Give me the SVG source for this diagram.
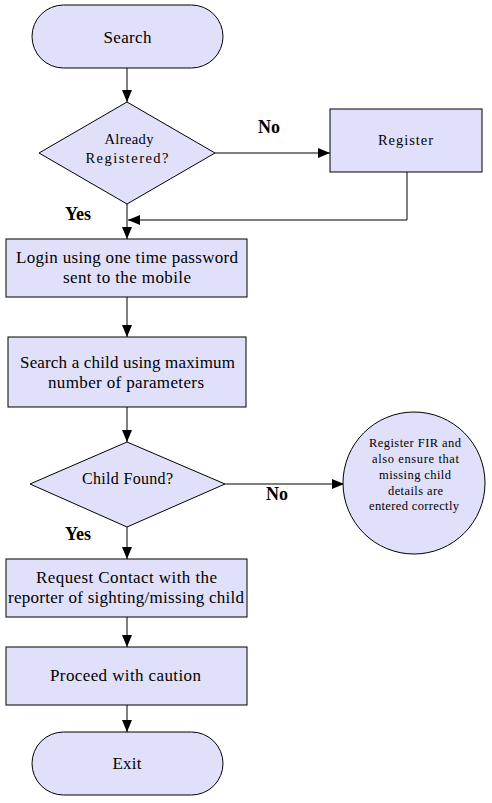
<svg xmlns="http://www.w3.org/2000/svg" width="492" height="803" viewBox="0 0 492 803">
<style>
.shape{fill:#e0e0fa;stroke:#000;stroke-width:1}
.t{font-family:"Liberation Serif","Times New Roman",serif;fill:#000;text-anchor:middle}
.b17{font-size:17px}
.s14{font-size:14.5px}
.s15{font-size:16px}
.s12{font-size:12.5px}
.lbl{font-family:"Liberation Serif","Times New Roman",serif;font-size:18px;font-weight:bold;fill:#000}
.c{fill:none;stroke:#000;stroke-width:1}
</style>
<defs>
<marker id="ah" markerUnits="userSpaceOnUse" markerWidth="12" markerHeight="10" refX="12" refY="5" orient="auto">
<path d="M0,0 L12,5 L0,10 Z" fill="#000"/>
</marker>
</defs>
<rect width="492" height="803" fill="#fff"/>
<g id="connectors">
<line class="c" x1="127" y1="68" x2="127" y2="102" marker-end="url(#ah)"/>
<line class="c" x1="215" y1="153" x2="330" y2="153" marker-end="url(#ah)"/>
<polyline class="c" points="407,172 407,220 128,220" marker-end="url(#ah)"/>
<line class="c" x1="127" y1="204" x2="127" y2="239" marker-end="url(#ah)"/>
<line class="c" x1="127" y1="297" x2="127" y2="337" marker-end="url(#ah)"/>
<line class="c" x1="127" y1="407" x2="127" y2="442" marker-end="url(#ah)"/>
<line class="c" x1="225" y1="484" x2="344" y2="484" marker-end="url(#ah)"/>
<line class="c" x1="127" y1="527" x2="127" y2="559" marker-end="url(#ah)"/>
<line class="c" x1="127" y1="617" x2="127" y2="647" marker-end="url(#ah)"/>
<line class="c" x1="127" y1="705" x2="127" y2="732" marker-end="url(#ah)"/>
<text class="lbl" x="258" y="133">No</text>
<text class="lbl" x="65" y="220">Yes</text>
<text class="lbl" x="266" y="500">No</text>
<text class="lbl" x="65" y="540">Yes</text>
</g>
<g id="search">
<rect class="shape" x="32" y="5" width="191" height="63" rx="31.5" ry="31.5"/>
<text class="t b17" x="127.5" y="43" textLength="48" lengthAdjust="spacing">Search</text>
</g>
<g id="already-registered">
<polygon class="shape" points="127,102 215,153 127,204 39,153"/>
<text class="t s14" x="129" y="144" textLength="49" lengthAdjust="spacing">Already</text>
<text class="t s14" x="127" y="163" textLength="83" lengthAdjust="spacing">Registered?</text>
</g>
<g id="register">
<rect class="shape" x="330" y="109" width="152" height="63"/>
<text class="t s14" x="405.5" y="145" textLength="55" lengthAdjust="spacing">Register</text>
</g>
<g id="login">
<rect class="shape" x="6" y="239" width="241" height="58"/>
<text class="t b17" x="127" y="263" textLength="222" lengthAdjust="spacing">Login using one time password</text>
<text class="t b17" x="127" y="283" textLength="128" lengthAdjust="spacing">sent to the mobile</text>
</g>
<g id="search-child">
<rect class="shape" x="8" y="337" width="238" height="70"/>
<text class="t b17" x="127.5" y="368" textLength="215" lengthAdjust="spacing">Search a child using maximum</text>
<text class="t b17" x="126" y="388" textLength="156" lengthAdjust="spacing">number of parameters</text>
</g>
<g id="child-found">
<polygon class="shape" points="127,442 225,484 127,527 30,484"/>
<text class="t s15" x="127.5" y="484" textLength="91" lengthAdjust="spacing">Child Found?</text>
</g>
<g id="register-fir">
<circle class="shape" cx="414" cy="483" r="71"/>
<text class="t s12" x="415" y="447" textLength="92" lengthAdjust="spacing">Register FIR and</text>
<text class="t s12" x="415.5" y="463" textLength="87" lengthAdjust="spacing">also ensure that</text>
<text class="t s12" x="415" y="479" textLength="72" lengthAdjust="spacing">missing child</text>
<text class="t s12" x="415.5" y="495" textLength="55" lengthAdjust="spacing">details are</text>
<text class="t s12" x="414" y="510" textLength="90" lengthAdjust="spacing">entered correctly</text>
</g>
<g id="request-contact">
<rect class="shape" x="6" y="559" width="241" height="58"/>
<text class="t b17" x="126.5" y="583" textLength="181" lengthAdjust="spacing">Request Contact with the</text>
<text class="t b17" x="126" y="603" textLength="236" lengthAdjust="spacing">reporter of sighting/missing child</text>
</g>
<g id="proceed">
<rect class="shape" x="6" y="647" width="241" height="58"/>
<text class="t b17" x="125.5" y="681" textLength="151" lengthAdjust="spacing">Proceed with caution</text>
</g>
<g id="exit">
<rect class="shape" x="32" y="732" width="191" height="63" rx="31.5" ry="31.5"/>
<text class="t b17" x="127" y="769" textLength="29" lengthAdjust="spacing">Exit</text>
</g>
</svg>
